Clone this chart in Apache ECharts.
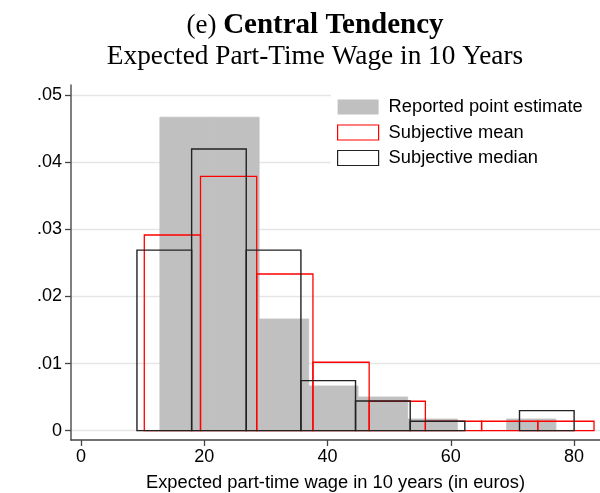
<!DOCTYPE html>
<html>
<head>
<meta charset="utf-8">
<script src="https://cdn.jsdelivr.net/npm/echarts@6/dist/echarts.min.js"></script>
<style>html,body{margin:0;padding:0;background:#fff;}#c{width:600px;height:493px;}</style>
</head>
<body>
<div id="c"></div>
<script>
// Bin edges (euros)
const grayEdges  = [12.8, 20.85, 28.9, 36.95, 44.95, 53.0, 61.05, 69.05, 77.05];
const redEdges   = [10.27, 19.39, 28.51, 37.63, 46.75, 55.87, 64.99, 74.11, 83.23];
const blackEdges = [9.08, 17.95, 26.81, 35.68, 44.54, 53.41, 62.27, 71.14, 80.0];
// Densities
const reportedDensity = [0.0467, 0.0467, 0.01664, 0.00666, 0.00502, 0.00174, 0, 0.00174];
const meanDensity     = [0.02915, 0.0379, 0.02334, 0.01019, 0.00438, 0.0014, 0.0014, 0.0014];
const medianDensity   = [0.0269, 0.04196, 0.0269, 0.00745, 0.00442, 0.0014, 0, 0.00298];
// Ticks
const xTicks = [0, 20, 40, 60, 80];
const yTicks = [0, 0.01, 0.02, 0.03, 0.04, 0.05];

const seriesNames = ['Reported point estimate', 'Subjective mean', 'Subjective median'];

function binData(edges, dens) {
  return dens.map((d, i) => [edges[i], edges[i + 1], d]);
}
function makeRender(fill, stroke, lw) {
  return function (params, api) {
    const x0 = api.value(0), x1 = api.value(1), h = api.value(2);
    if (!h) return null;
    const p0 = api.coord([x0, h]);
    const p1 = api.coord([x1, 0]);
    return {
      type: 'rect',
      shape: { x: p0[0], y: p0[1], width: p1[0] - p0[0], height: p1[1] - p0[1] },
      style: { fill: fill, stroke: stroke, lineWidth: lw }
    };
  };
}

const chart = echarts.init(document.getElementById('c'), null, { renderer: 'canvas' });
const sans = 'Liberation Sans, Arial, sans-serif';
const serif = 'Liberation Serif, Times New Roman, serif';

chart.setOption({
  animation: false,
  backgroundColor: '#fff',
  title: [
    {
      text: '{a|(e) }{b|Central Tendency}',
      left: 310, top: 6, textAlign: 'center',
      textStyle: {
        fontWeight: 'normal',
        rich: {
          a: { fontFamily: serif, fontSize: 27, fontWeight: 'normal', color: '#000' },
          b: { fontFamily: serif, fontSize: 29, fontWeight: 'bold', color: '#000' }
        }
      }
    },
    {
      text: 'Expected Part-Time Wage in 10 Years',
      left: 310, top: 38, textAlign: 'center',
      textStyle: { fontFamily: serif, fontSize: 27.3, fontWeight: 'normal', color: '#000' }
    }
  ],
  legend: {
    orient: 'vertical',
    left: 331, top: 90,
    padding: [8, 20, 6, 6],
    backgroundColor: '#fff',
    itemWidth: 41, itemHeight: 15, itemGap: 7.5,
    textStyle: { fontFamily: sans, fontSize: 18.3, color: '#000', padding: [0, 0, 0, 5] },
    data: [
      { name: seriesNames[0], icon: 'rect', itemStyle: { color: '#c0c0c0', borderWidth: 0 } },
      { name: seriesNames[1], icon: 'rect', itemStyle: { color: '#fff', borderColor: '#ff0000', borderWidth: 1.2 } },
      { name: seriesNames[2], icon: 'rect', itemStyle: { color: '#fff', borderColor: '#222', borderWidth: 1.2 } }
    ]
  },
  grid: { left: 71, right: 0, top: 85, bottom: 53, containLabel: false, outerBoundsMode: 'none' },
  xAxis: {
    type: 'value',
    min: -1.62, max: 84.2,
    name: 'Expected part-time wage in 10 years (in euros)',
    nameLocation: 'middle', nameGap: 34, nameMoveOverlap: false,
    nameTextStyle: { fontFamily: sans, fontSize: 18.3, color: '#000' },
    axisLine: { show: true, onZero: false, lineStyle: { color: '#444', width: 1.5 } },
    axisTick: { show: true, length: 6, customValues: xTicks, lineStyle: { color: '#444', width: 1.3 } },
    axisLabel: { customValues: xTicks, fontFamily: sans, fontSize: 18, color: '#000', margin: 8 },
    splitLine: { show: false }
  },
  yAxis: {
    type: 'value',
    min: -0.00139, max: 0.0515,
    axisLine: { show: true, onZero: false, lineStyle: { color: '#555', width: 1.5 } },
    axisTick: { show: true, length: 6, customValues: yTicks, lineStyle: { color: '#444', width: 1.3 } },
    axisLabel: {
      customValues: yTicks, fontFamily: sans, fontSize: 18, color: '#000', margin: 9,
      formatter: function (v) { return v === 0 ? '0' : ('' + (+v.toFixed(2))).replace(/^0/, ''); }
    },
    splitLine: { show: true, lineStyle: { color: '#e6e6e6', width: 1.3 } }
  },
  series: [
    {
      name: seriesNames[0], type: 'custom',
      itemStyle: { color: '#c0c0c0' },
      encode: { x: [0, 1], y: 2 },
      renderItem: makeRender('#c0c0c0', '#c0c0c0', 0.8),
      data: binData(grayEdges, reportedDensity), z: 2
    },
    {
      name: seriesNames[1], type: 'custom',
      itemStyle: { color: '#ff0000' },
      encode: { x: [0, 1], y: 2 },
      renderItem: makeRender('none', '#ff0000', 1.3),
      data: binData(redEdges, meanDensity), z: 3
    },
    {
      name: seriesNames[2], type: 'custom',
      itemStyle: { color: '#222' },
      encode: { x: [0, 1], y: 2 },
      renderItem: makeRender('none', '#222', 1.4),
      data: binData(blackEdges, medianDensity), z: 4
    }
  ]
});
</script>
</body>
</html>
